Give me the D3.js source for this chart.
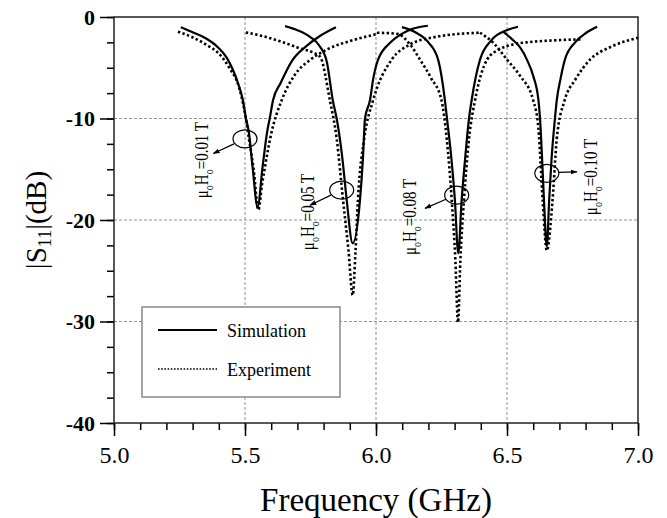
<!DOCTYPE html>
<html>
<head>
<meta charset="utf-8">
<title>S11 vs frequency</title>
<script src="https://cdn.jsdelivr.net/npm/d3@7"></script>
<style>
  body { margin: 0; background: #fff; }
  text { font-family: "Liberation Serif", "Times New Roman", serif; }
</style>
</head>
<body>
<script>
// values, [frequency (GHz), |S11| (dB)]
var sim001 = [[5.255,-1.0],[5.30,-1.5],[5.35,-2.1],[5.393,-2.9],[5.43,-4.0],[5.473,-6.5],[5.492,-8.2],[5.503,-9.9],[5.515,-11.4],[5.529,-14.8],[5.548,-18.7],[5.567,-14.8],[5.584,-11.4],[5.595,-9.9],[5.607,-8.2],[5.636,-6.5],[5.68,-4.3],[5.733,-2.9],[5.79,-1.8],[5.847,-1.0]];
var sim005 = [[5.653,-0.9],[5.70,-1.3],[5.748,-1.95],[5.786,-2.9],[5.813,-4.5],[5.835,-8.2],[5.85,-10],[5.872,-14],[5.888,-18],[5.911,-22.3],[5.939,-18],[5.95,-14],[5.958,-10],[5.977,-8.2],[5.99,-6.0],[6.008,-4.2],[6.06,-2.4],[6.13,-1.25],[6.198,-0.86]];
var sim008 = [[6.099,-1.0],[6.15,-1.5],[6.20,-2.5],[6.237,-4.2],[6.263,-8.2],[6.271,-10],[6.288,-14],[6.301,-18],[6.314,-23.3],[6.327,-18],[6.34,-14],[6.355,-10],[6.365,-8.2],[6.397,-4.2],[6.44,-2.3],[6.504,-1.25],[6.542,-0.96]];
var sim010 = [[6.485,-1.45],[6.52,-2.2],[6.55,-3.0],[6.576,-4.2],[6.60,-5.8],[6.62,-8.2],[6.626,-10],[6.634,-14],[6.641,-18],[6.652,-22.6],[6.661,-18],[6.670,-14],[6.683,-10],[6.69,-8.2],[6.705,-6.0],[6.721,-4.2],[6.76,-2.5],[6.80,-1.6],[6.844,-0.96]];

var exp001 = [[5.244,-1.45],[5.30,-2.0],[5.35,-2.7],[5.40,-3.6],[5.44,-5.0],[5.478,-7.0],[5.50,-9.5],[5.515,-12],[5.533,-15],[5.551,-19],[5.565,-16.5],[5.576,-14.8],[5.60,-11.5],[5.64,-8.2],[5.69,-5.7],[5.75,-4.2],[5.813,-3.2],[5.91,-2.3],[6.00,-1.7]];
var exp005 = [[5.503,-1.52],[5.57,-1.9],[5.634,-2.4],[5.70,-3.0],[5.786,-3.9],[5.824,-8.2],[5.85,-12],[5.874,-18],[5.895,-23],[5.911,-27.4],[5.922,-23],[5.931,-18],[5.955,-12],[5.989,-8.2],[6.06,-4.2],[6.13,-2.7],[6.22,-2.0],[6.30,-1.7],[6.40,-1.55]];
var exp008 = [[6.004,-1.55],[6.08,-1.65],[6.13,-2.7],[6.168,-4.2],[6.21,-6.0],[6.25,-8.2],[6.27,-12],[6.289,-18],[6.303,-24],[6.313,-30.1],[6.322,-24],[6.336,-18],[6.355,-12],[6.378,-8.2],[6.424,-4.2],[6.47,-3.2],[6.523,-2.7],[6.576,-2.5],[6.68,-2.3],[6.79,-2.2]];
var exp010 = [[6.397,-1.55],[6.45,-2.6],[6.50,-4.2],[6.55,-5.8],[6.60,-8.2],[6.62,-11],[6.636,-18],[6.652,-23],[6.674,-18],[6.69,-12],[6.72,-8.2],[6.76,-6.2],[6.817,-4.2],[6.90,-2.9],[7.0,-2.05]];

var simCurves = [sim001, sim005, sim008, sim010];
var expCurves = [exp001, exp005, exp008, exp010];

var xTicks = [5.0, 5.5, 6.0, 6.5, 7.0];
var yTicks = [0, -10, -20, -30, -40];
var xGrid = [5.5, 6.0, 6.5];
var yGrid = [-10, -20, -30];
var fieldValues = ["0.01", "0.05", "0.08", "0.10"];
var seriesNames = ["Simulation", "Experiment"];

// annotation anchors in data units: text start, ellipse centre, arrow from/to
var notes = [
  { text: [5.359, -17.85], ring: [5.500, -12.0], from: [5.458, -12.5], to: [5.379, -13.45] },
  { text: [5.763, -22.97], ring: [5.869, -17.05], from: [5.828, -17.55], to: [5.748, -18.55] },
  { text: [6.153, -23.46], ring: [6.308, -17.55], from: [6.267, -17.95], to: [6.187, -18.85] },
  { text: [6.843, -19.52], ring: [6.652, -15.4], from: [6.695, -15.3], to: [6.767, -15.25] }
];

var width = 667, height = 518;
var pl = 114, pr = 638, pt = 17, pb = 423;

var x = d3.scaleLinear().domain([5, 7]).range([pl, pr]);
var y = d3.scaleLinear().domain([-40, 0]).range([pb, pt]);

var svg = d3.select("body").append("svg")
  .attr("width", width).attr("height", height);

svg.append("defs").append("marker")
  .attr("id", "arr").attr("viewBox", "0 0 10 10")
  .attr("refX", 9).attr("refY", 5)
  .attr("markerWidth", 7).attr("markerHeight", 7)
  .attr("markerUnits", "userSpaceOnUse")
  .attr("orient", "auto")
  .append("path").attr("d", "M0,1.5L10,5L0,8.5z").attr("fill", "#000");

// grid
svg.append("g").selectAll("line").data(xGrid).enter().append("line")
  .attr("x1", d => x(d)).attr("x2", d => x(d))
  .attr("y1", pt).attr("y2", pb)
  .attr("stroke", "#777").attr("stroke-width", 0.8).attr("stroke-dasharray", "3,2");
svg.append("g").selectAll("line").data(yGrid).enter().append("line")
  .attr("y1", d => y(d)).attr("y2", d => y(d))
  .attr("x1", pl).attr("x2", pr)
  .attr("stroke", "#777").attr("stroke-width", 0.8).attr("stroke-dasharray", "3,2");

// axes
var gx = svg.append("g").attr("transform", "translate(0," + pb + ")");
gx.append("g").call(d3.axisBottom(x).tickValues(d3.range(5, 7.001, 0.1)).tickSize(7).tickFormat(""));
gx.append("g").call(d3.axisBottom(x).tickValues(xTicks).tickSize(13).tickPadding(10)
  .tickFormat(d3.format(".1f")));
gx.selectAll("line").attr("stroke", "#000").attr("stroke-width", 1.5);
gx.selectAll("path").remove();
gx.selectAll("text").attr("font-size", 24).attr("fill", "#000")
  .style("font-family", "'Liberation Serif', serif");

var gy = svg.append("g").attr("transform", "translate(" + pl + ",0)");
gy.append("g").call(d3.axisLeft(y).tickValues(d3.range(0, -40.001, -2.5)).tickSize(7).tickFormat(""));
gy.append("g").call(d3.axisLeft(y).tickValues(yTicks).tickSize(14).tickPadding(5)
  .tickFormat(d => String(d)));
gy.selectAll("line").attr("stroke", "#000").attr("stroke-width", 1.5);
gy.selectAll("path").remove();
gy.selectAll("text").attr("font-size", 22).attr("font-weight", "bold").attr("fill", "#000")
  .attr("dy", "0.34em")
  .style("font-family", "'Liberation Serif', serif");

// frame
svg.append("rect").attr("x", pl).attr("y", pt)
  .attr("width", pr - pl).attr("height", pb - pt)
  .attr("fill", "none").attr("stroke", "#222").attr("stroke-width", 1.5);

// curves
var line = d3.line().x(d => x(d[0])).y(d => y(d[1])).curve(d3.curveMonotoneX);
svg.append("g").selectAll("path").data(expCurves).enter().append("path")
  .attr("d", line).attr("fill", "none").attr("stroke", "#000")
  .attr("stroke-width", 2.6).attr("stroke-dasharray", "2.4,2.4");
svg.append("g").selectAll("path").data(simCurves).enter().append("path")
  .attr("d", line).attr("fill", "none").attr("stroke", "#000")
  .attr("stroke-width", 2.2);

// annotations
var ann = svg.append("g");
notes.forEach(function (n, i) {
  ann.append("ellipse")
    .attr("cx", x(n.ring[0])).attr("cy", y(n.ring[1]))
    .attr("rx", 12).attr("ry", 9)
    .attr("fill", "none").attr("stroke", "#000").attr("stroke-width", 1.2);
  ann.append("line")
    .attr("x1", x(n.from[0])).attr("y1", y(n.from[1]))
    .attr("x2", x(n.to[0])).attr("y2", y(n.to[1]))
    .attr("stroke", "#000").attr("stroke-width", 1.2)
    .attr("marker-end", "url(#arr)");
  var t = ann.append("text")
    .attr("transform", "translate(" + x(n.text[0]) + "," + y(n.text[1]) + ") rotate(-90) scale(1,1.3)")
    .attr("font-size", 15).attr("fill", "#000");
  t.append("tspan").text("\u03bc");
  t.append("tspan").attr("dy", 4).attr("font-size", 10).text("o");
  t.append("tspan").attr("dy", -4).text("H");
  t.append("tspan").attr("dy", 4).attr("font-size", 10).text("o");
  t.append("tspan").attr("dy", -4).text("=" + fieldValues[i] + " T");
});

// legend
var lg = svg.append("g");
lg.append("rect").attr("x", 142).attr("y", 307).attr("width", 198).attr("height", 90)
  .attr("fill", "#fff").attr("stroke", "#888").attr("stroke-width", 1.5);
lg.append("line").attr("x1", 158).attr("x2", 217).attr("y1", 330).attr("y2", 330)
  .attr("stroke", "#000").attr("stroke-width", 2.2);
lg.append("line").attr("x1", 158).attr("x2", 217).attr("y1", 369).attr("y2", 369)
  .attr("stroke", "#000").attr("stroke-width", 1.6).attr("stroke-dasharray", "1.6,1.6");
lg.selectAll("text").data(seriesNames).enter().append("text")
  .attr("x", 227).attr("y", (d, i) => 337 + i * 39)
  .attr("font-size", 18).attr("fill", "#000").text(d => d);

// axis titles
svg.append("text").attr("x", (pl + pr) / 2).attr("y", 511)
  .attr("text-anchor", "middle").attr("font-size", 33).attr("fill", "#000")
  .text("Frequency (GHz)");

var yt = svg.append("text")
  .attr("transform", "translate(46," + ((pt + pb) / 2) + ") rotate(-90)")
  .attr("text-anchor", "middle").attr("font-size", 29).attr("fill", "#000");
yt.append("tspan").text("|S");
yt.append("tspan").attr("dy", 5).attr("font-size", 18).text("11");
yt.append("tspan").attr("dy", -5).text("|(dB)");
</script>
</body>
</html>
